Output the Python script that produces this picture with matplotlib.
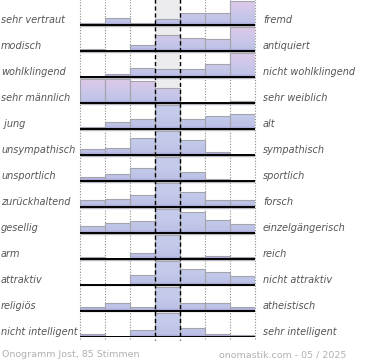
import numpy as np
import matplotlib
matplotlib.use("Agg")
import matplotlib.pyplot as plt
from matplotlib import transforms
from matplotlib.colors import to_rgb

left_labels = ["sehr vertraut", "modisch", "wohlklingend", "sehr männlich", " jung",
               "unsympathisch", "unsportlich", "zurückhaltend", "gesellig", "arm",
               "attraktiv", "religiös", "nicht intelligent"]
right_labels = ["fremd", "antiquiert", "nicht wohlklingend", "sehr weiblich", "alt",
                "sympathisch", "sportlich", "forsch", "einzelgängerisch", "reich",
                "nicht attraktiv", "atheistisch", "sehr intelligent"]

# relative share per scale step (7 steps), normalised to the row maximum
shares = [
    [0.08, 0.28, 0.10, 0.23, 0.50, 0.50, 1.00],
    [0.10, 0.00, 0.26, 0.65, 0.55, 0.49, 1.00],
    [0.05, 0.12, 0.37, 0.33, 0.33, 0.54, 1.00],
    [1.00, 1.00, 0.92, 0.62, 0.00, 0.00, 0.08],
    [0.06, 0.30, 0.41, 1.00, 0.41, 0.54, 0.64],
    [0.25, 0.30, 0.69, 1.00, 0.62, 0.10, 0.00],
    [0.17, 0.30, 0.52, 1.00, 0.37, 0.07, 0.00],
    [0.28, 0.32, 0.48, 1.00, 0.61, 0.30, 0.27],
    [0.28, 0.39, 0.50, 1.00, 0.87, 0.52, 0.35],
    [0.09, 0.04, 0.22, 1.00, 0.09, 0.10, 0.07],
    [0.00, 0.00, 0.39, 1.00, 0.65, 0.54, 0.37],
    [0.17, 0.30, 0.16, 1.00, 0.30, 0.34, 0.17],
    [0.13, 0.00, 0.29, 1.00, 0.35, 0.13, 0.08],
]

footer_left = "Onogramm Jost, 85 Stimmen"
footer_right = "onomastik.com - 05 / 2025"

W, Hpx = 370, 360
fig = plt.figure(figsize=(W / 100, Hpx / 100), dpi=100)
row_h = 25.97
top_px = 25 - row_h
bot_px = 25 + row_h * 12
ax = fig.add_axes([80 / W, 1 - bot_px / Hpx, 175 / W, (bot_px - top_px) / Hpx])
nrows, ncols = len(shares), 7
ax.set_xlim(0, ncols)
ax.set_ylim(nrows, 0)
ax.axis("off")

ax.axvspan(3, 4, color="#ececee", zorder=0, lw=0)

def make_grad(c_top, c_mid, c_bot, c_band, n=60):
    arr = np.zeros((n, 1, 3))
    t = np.linspace(0, 1, n)
    ct, cm, cb, cband = map(lambda c: np.array(to_rgb(c)), (c_top, c_mid, c_bot, c_band))
    for k, tt in enumerate(t):
        if tt < 0.5:
            col = ct + (cm - ct) * (tt / 0.5)
        elif tt < 0.9:
            col = cm + (cb - cm) * ((tt - 0.5) / 0.4)
        else:
            col = cb + (cband - cb) * ((tt - 0.9) / 0.1)
        arr[k, 0] = col
    return arr

grad_pink = make_grad("#e4c8e8", "#cdc8ea", "#bfc3e8", "#a099cc")
grad_blue = make_grad("#c6cdeb", "#c3caea", "#bdc2e6", "#a099cc")

maxh = 0.925
for i, row in enumerate(shares):
    grad = grad_pink if i < 4 else grad_blue
    for j, v in enumerate(row):
        if v <= 0:
            continue
        bars = ax.bar(j + 0.5, -v * maxh, bottom=i + 1, width=1,
                      facecolor="none", edgecolor="#a4a4ac", lw=0.8, zorder=3)
        patch = bars[0]
        im = ax.imshow(grad, extent=(j, j + 1, i + 1, i), aspect="auto",
                       zorder=2, interpolation="bilinear")
        im.set_clip_path(patch)

ax.set_xlim(0, ncols)
ax.set_ylim(nrows, 0)

for x in [0, 1, 2, 5, 6, 7]:
    ax.vlines(x, 0, nrows + 0.12, colors="#8a8a8a", lw=0.8,
              linestyles=(0, (1, 1.5)), zorder=1.5, clip_on=False)
for x in [3, 4]:
    ax.vlines(x, 0, nrows + 0.12, colors="black", lw=1.0,
              linestyles=(0, (3, 2)), zorder=5, clip_on=False)

for i in range(nrows):
    ax.hlines(i + 1 + 0.03, 0, ncols, colors="#b8b8c0", lw=1.0, zorder=3.5)
    ax.hlines(i + 1, 0, ncols, colors="black", lw=1.4, zorder=4)

tr = transforms.blended_transform_factory(fig.transFigure, ax.transData)
for i in range(nrows):
    ax.text(1 / W, i + 1 - 0.08, left_labels[i], transform=tr, fontsize=7,
            style="italic", color="#555555", va="baseline", ha="left")
    ax.text(263 / W, i + 1 - 0.08, right_labels[i], transform=tr, fontsize=7,
            style="italic", color="#555555", va="baseline", ha="left")

fig.text(2 / W, 1 - 357 / Hpx, footer_left, fontsize=6.8, color="#b0b0b0",
         va="baseline", ha="left")
fig.text(346 / W, 1 - 357 / Hpx, footer_right, fontsize=6.8, color="#b0b0b0",
         va="baseline", ha="right")

fig.savefig("out.png", dpi=100)
